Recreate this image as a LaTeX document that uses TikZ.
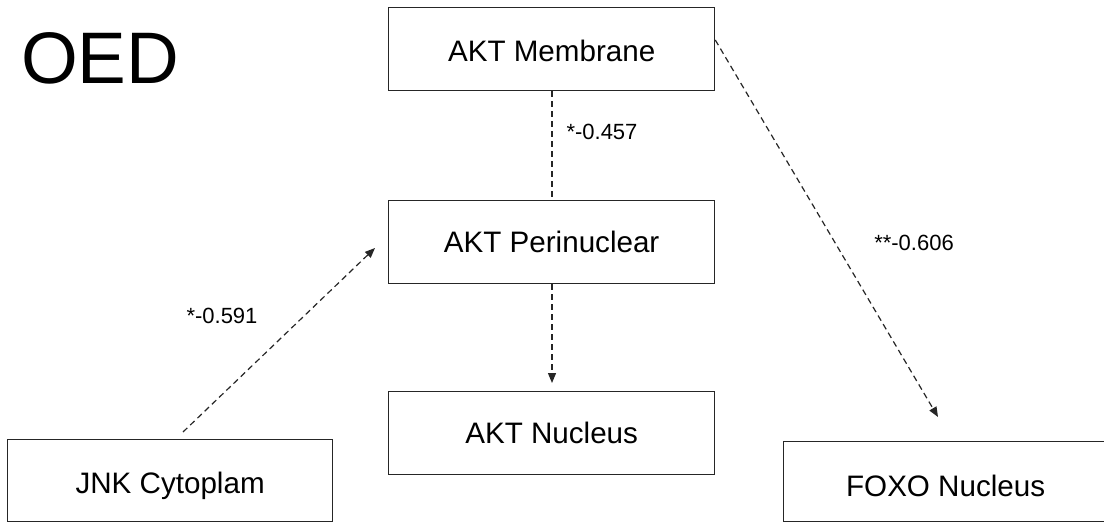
\documentclass[tikz,border=0pt]{standalone}
\usepackage{fontspec}
\setmainfont{Liberation Sans}
\usetikzlibrary{arrows.meta,calc}
% lower a box label without changing its reported size
\newcommand{\lowertext}[2]{\raisebox{-#1}[\height][\depth]{#2}}
\begin{document}
\begin{tikzpicture}[x=1pt,y=-1pt,
  box/.style={draw=black!85,line width=1.3pt,rectangle,inner sep=0pt,anchor=north west,
    font=\fontsize{29.6}{34}\selectfont},
  link/.style={draw=black!85,line width=1.2pt,dash pattern=on 6pt off 4pt},
  arr/.style={link,-{Triangle[length=10pt,width=8pt]}},
  coef/.style={font=\fontsize{22}{26}\selectfont,inner sep=0pt}]
\useasboundingbox (0,0) rectangle (1104,523);
\clip (0,0) rectangle (1104,523);
\fill[white] (0,0) rectangle (1104,523);

% title
\node[anchor=base west,inner sep=0pt,font=\fontsize{73}{78}\selectfont] (title) at (21,83) {OED};

% boxes
\node[box,minimum width=326pt,minimum height=83pt] (mem) at (388,7) {\lowertext{1.5pt}{AKT Membrane}};
\node[box,minimum width=326pt,minimum height=83pt] (per) at (388,200) {AKT Perinuclear};
\node[box,minimum width=326pt,minimum height=83pt] (nuc) at (388,391) {AKT Nucleus};
\node[box,minimum width=325pt,minimum height=82pt] (jnk) at (7,439) {\lowertext{5pt}{JNK Cytoplam}};
\node[box,minimum width=324pt,minimum height=80pt] (foxo) at (783,441) {\lowertext{4pt}{FOXO Nucleus}};

% arrow ends
\coordinate (memE) at ($(mem.north east)+(0,33)$);
\coordinate (foxoTip) at (938,417);
\coordinate (jnkStart) at (183,432);
\coordinate (perTip) at (375,248);
\coordinate (nucTip) at (552,383);

% connectors
\draw[link] (mem.south -| 552,0) -- (per.north -| 552,0);
\draw[arr] (per.south -| 552,0) -- (nucTip);
\draw[arr] (jnkStart) -- (perTip);
\draw[arr] (memE) -- (foxoTip);

% coefficients
\node[coef] (c1) at (602,132) {*-0.457};
\node[coef] (c2) at (222,316) {*-0.591};
\node[coef] (c3) at (914,243) {**-0.606};
\end{tikzpicture}
\end{document}
